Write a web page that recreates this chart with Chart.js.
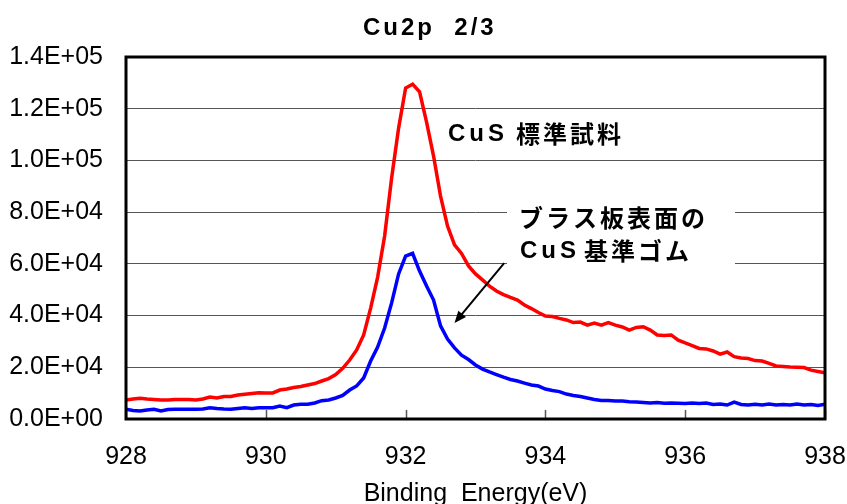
<!DOCTYPE html>
<html>
<head>
<meta charset="utf-8">
<script src="https://cdn.jsdelivr.net/npm/chart.js@4.4.1/dist/chart.umd.min.js"></script>
<style>
html, body { margin: 0; padding: 0; background: #fff; }
</style>
</head>
<body>
<canvas id="myChart" width="847" height="504"></canvas>
<script>
// binding energy (eV)
var energy = [
	928.0, 928.1, 928.2, 928.3, 928.4, 928.5, 928.6, 928.7, 928.8, 928.9,
	929.0, 929.1, 929.2, 929.3, 929.4, 929.5, 929.6, 929.7, 929.8, 929.9,
	930.0, 930.1, 930.2, 930.3, 930.4, 930.5, 930.6, 930.7, 930.8, 930.9,
	931.0, 931.1, 931.2, 931.3, 931.4, 931.5, 931.6, 931.7, 931.8, 931.9,
	932.0, 932.1, 932.2, 932.3, 932.4, 932.5, 932.6, 932.7, 932.8, 932.9,
	933.0, 933.1, 933.2, 933.3, 933.4, 933.5, 933.6, 933.7, 933.8, 933.9,
	934.0, 934.1, 934.2, 934.3, 934.4, 934.5, 934.6, 934.7, 934.8, 934.9,
	935.0, 935.1, 935.2, 935.3, 935.4, 935.5, 935.6, 935.7, 935.8, 935.9,
	936.0, 936.1, 936.2, 936.3, 936.4, 936.5, 936.6, 936.7, 936.8, 936.9,
	937.0, 937.1, 937.2, 937.3, 937.4, 937.5, 937.6, 937.7, 937.8, 937.9,
	938.0
];

// CuS 標準試料 (red)
var cusStandard = [
	7350, 7700, 8000, 7700, 7550, 7350, 7350, 7550, 7550, 7550,
	7350, 7750, 8500, 8100, 8700, 8700, 9300, 9550, 9850, 10150,
	10050, 10100, 11200, 11600, 12200, 12550, 13150, 13700, 14700, 15650,
	17200, 19600, 22800, 26700, 32500, 42900, 54900, 70800, 93200, 112500,
	128000, 129500, 126500, 114800, 101700, 86200, 74600, 67300, 64000, 59200,
	56100, 53800, 51400, 49500, 48100, 47000, 46000, 44100, 42700, 41200,
	39800, 39600, 38900, 38300, 37300, 37500, 36300, 37100, 36300, 37300,
	36300, 35600, 34400, 35400, 35700, 34400, 32500, 32300, 32500, 30500,
	29400, 28400, 27300, 27100, 26300, 25100, 25900, 24100, 23600, 23400,
	22600, 22400, 21500, 20500, 20300, 20100, 20000, 19900, 18900, 18400,
	17900
];

// ブラス板表面の CuS 基準ゴム (blue)
var brassRubber = [
	3750, 3300, 3100, 3500, 3750, 3100, 3700, 3750, 3750, 3750,
	3750, 3870, 4370, 4060, 3870, 3750, 4060, 4370, 4060, 4370,
	4370, 4370, 5030, 4370, 5400, 5680, 5680, 6190, 7080, 7350,
	8120, 9090, 11200, 12800, 15850, 22400, 27800, 35200, 44900, 56100,
	63000, 64100, 57200, 51400, 46000, 36000, 30900, 27500, 24700, 23000,
	20900, 19300, 18200, 17200, 16200, 15300, 14700, 13900, 13150, 12750,
	11600, 11000, 10600, 9650, 9100, 8700, 8100, 7550, 7150, 7150,
	6950, 6950, 6700, 6550, 6400, 6200, 6400, 6100, 6200, 6100,
	6000, 6200, 6000, 6200, 5600, 5800, 5400, 6550, 5600, 5400,
	5700, 5400, 5800, 5400, 5600, 5400, 5800, 5400, 5600, 5200,
	5700
];

var xTicks = [928, 930, 932, 934, 936, 938];
var yTicks = [0, 20000, 40000, 60000, 80000, 100000, 120000, 140000];

function points(ys) {
	var out = [];
	for (var i = 0; i < energy.length; i++) {
		out.push({x: energy[i], y: ys[i]});
	}
	return out;
}

function sci(v) {
	if (v === 0) return '0.0E+00';
	var e = Math.floor(Math.log10(v) + 1e-9);
	var m = v / Math.pow(10, e);
	return m.toFixed(1) + 'E+' + (e < 10 ? '0' : '') + e;
}

var jp = '"Noto Sans CJK JP", "Noto Sans CJK SC", sans-serif';
var lat = '"Liberation Sans", Arial, sans-serif';

var decor = {
	id: 'decor',
	afterDraw: function(chart) {
		var ctx = chart.ctx;
		var a = chart.chartArea;
		var sx = chart.scales.x, sy = chart.scales.y;
		ctx.save();

		// inner ticks on bottom axis
		ctx.strokeStyle = '#555';
		ctx.lineWidth = 1.5;
		xTicks.forEach(function(t) {
			var px = Math.round(sx.getPixelForValue(t)) + 0.5;
			ctx.beginPath();
			ctx.moveTo(px, a.bottom);
			ctx.lineTo(px, a.bottom - 9);
			ctx.stroke();
		});

		// plot frame
		ctx.strokeStyle = '#000';
		ctx.lineWidth = 3;
		ctx.strokeRect(a.left, a.top, a.right - a.left, a.bottom - a.top);

		// title
		ctx.fillStyle = '#000';
		ctx.textBaseline = 'middle';
		ctx.textAlign = 'left';
		ctx.font = 'bold 24px ' + lat;
		ctx.letterSpacing = '3px';
		ctx.fillText('Cu2p  2/3', 363, 28);

		// label: CuS 標準試料
		ctx.font = 'bold 24px ' + lat;
		ctx.letterSpacing = '4px';
		ctx.fillText('CuS', 448, 134);
		ctx.font = 'bold 24px ' + jp;
		ctx.letterSpacing = '3px';
		ctx.fillText('標準試料', 516, 134);

		// white box behind second label
		ctx.fillStyle = '#fff';
		ctx.fillRect(507, 199, 228, 72);

		ctx.fillStyle = '#000';
		ctx.font = 'bold 24px ' + jp;
		ctx.letterSpacing = '3px';
		ctx.fillText('ブラス板表面の', 519, 218);
		ctx.font = 'bold 24px ' + lat;
		ctx.letterSpacing = '4px';
		ctx.fillText('CuS', 520, 251);
		ctx.font = 'bold 24px ' + jp;
		ctx.letterSpacing = '3px';
		ctx.fillText('基準ゴム', 584, 251);

		// arrow pointing at the blue curve
		var x0 = sx.getPixelForValue(933.41), y0 = sy.getPixelForValue(60300);
		var x1 = sx.getPixelForValue(932.70), y1 = sy.getPixelForValue(37100);
		var ang = Math.atan2(y1 - y0, x1 - x0);
		ctx.strokeStyle = '#000';
		ctx.lineWidth = 2;
		ctx.beginPath();
		ctx.moveTo(x0, y0);
		ctx.lineTo(x1 - 8 * Math.cos(ang), y1 - 8 * Math.sin(ang));
		ctx.stroke();
		ctx.beginPath();
		ctx.moveTo(x1, y1);
		ctx.lineTo(x1 - 12 * Math.cos(ang) + 5 * Math.sin(ang), y1 - 12 * Math.sin(ang) - 5 * Math.cos(ang));
		ctx.lineTo(x1 - 12 * Math.cos(ang) - 5 * Math.sin(ang), y1 - 12 * Math.sin(ang) + 5 * Math.cos(ang));
		ctx.closePath();
		ctx.fill();

		// axis title
		ctx.letterSpacing = '0px';
		ctx.font = '25px ' + lat;
		ctx.textAlign = 'center';
		ctx.fillText('Binding  Energy(eV)', (a.left + a.right) / 2, 494);

		ctx.restore();
	}
};

var ctx = document.getElementById('myChart');
var myChart = new Chart(ctx, {
	type: 'line',
	data: {
		datasets: [
			{
				label: 'CuS 標準試料',
				data: points(cusStandard),
				borderColor: '#ff0000',
				borderWidth: 3.5,
				pointRadius: 0,
				tension: 0,
				fill: false
			},
			{
				label: 'ブラス板表面の CuS 基準ゴム',
				data: points(brassRubber),
				borderColor: '#0000ff',
				borderWidth: 3.5,
				pointRadius: 0,
				tension: 0,
				fill: false
			}
		]
	},
	options: {
		responsive: false,
		animation: false,
		devicePixelRatio: 1,
		layout: { padding: { top: 57, right: 22, bottom: 0, left: 0 } },
		plugins: {
			legend: { display: false },
			title: { display: false },
			tooltip: { enabled: false }
		},
		scales: {
			x: {
				type: 'linear',
				min: 928,
				max: 938,
				afterFit: function(s) { s.height = 85; s.paddingLeft = 0; s.paddingRight = 0; },
				afterBuildTicks: function(s) { s.ticks = xTicks.map(function(v) { return {value: v}; }); },
				grid: { display: false },
				border: { display: false },
				ticks: {
					color: '#000',
					padding: 15,
					maxRotation: 0,
					font: { family: lat, size: 25 },
					callback: function(v) { return String(v); }
				}
			},
			y: {
				min: 0,
				max: 140000,
				afterFit: function(s) { s.width = 126; s.paddingTop = 0; s.paddingBottom = 0; },
				afterBuildTicks: function(s) { s.ticks = yTicks.map(function(v) { return {value: v}; }); },
				grid: { color: '#555', lineWidth: 1, drawTicks: false },
				border: { display: false },
				ticks: {
					color: '#000',
					padding: 23,
					font: { family: lat, size: 25 },
					callback: function(v) { return sci(v); }
				}
			}
		}
	},
	plugins: [decor]
});
</script>
</body>
</html>
